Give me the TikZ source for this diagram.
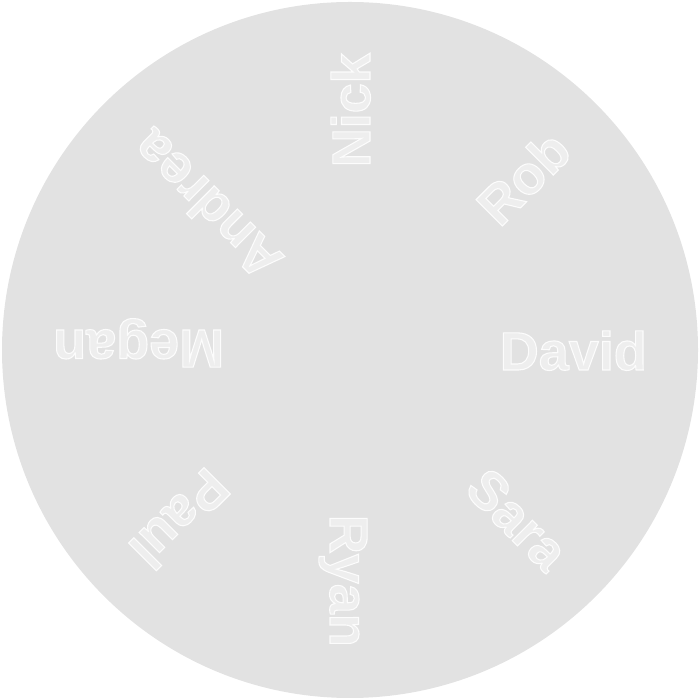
\documentclass[tikz,border=0pt]{standalone}
\usepackage{fontspec}
\setmainfont{Liberation Sans}
\newfontfamily\namefont[FakeBold=2]{Liberation Sans Bold}
\usetikzlibrary{calc}
\definecolor{disc}{HTML}{E2E2E2}
\definecolor{letter}{HTML}{EEEEEE}
\tikzset{
  namelabel/.style={font=\namefont\fontsize{54}{54}\selectfont, inner sep=0pt,
    anchor=base east, text=letter}
}
\newcommand\embossed[1]{\special{pdf:code 0.99 G}#1}
\begin{document}
\begin{tikzpicture}[x=1pt,y=1pt]
\useasboundingbox (0,0) rectangle (700,700);
\fill[disc] (350,350) circle (348);
\coordinate (c) at (350,350);
\foreach \ang/\nm/\id in {0/David/david,45/Rob/rob,90/Nick/nick,135/Andrea/andrea,180/Megan/megan,225/Paul/paul,270/Ryan/ryan,315/Sara/sara}{
  \node[namelabel, rotate=\ang] (\id) at ($(c)+(\ang:297)+(\ang-90:20)$) {\embossed{\nm}};
}
\end{tikzpicture}
\end{document}
